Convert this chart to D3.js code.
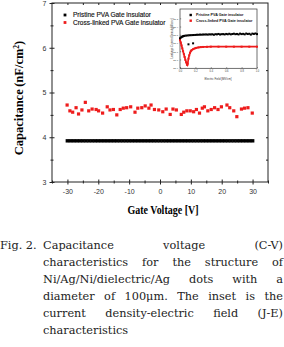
<!DOCTYPE html>
<html>
<head>
<meta charset="utf-8">
<script src="https://cdn.jsdelivr.net/npm/d3@7"></script>
<style>
  html, body { margin: 0; padding: 0; background: #fff; overflow: hidden; }
  svg { display: block; }
</style>
</head>
<body>
<script>
// main chart: C-V
var seriesNames = ['Pristine PVA Gate insulator', 'Cross-linked PVA Gate insulator'];
var xTicks = [-30, -20, -10, 0, 10, 20, 30];
var yTicks = [3, 4, 5, 6, 7];

var pristineV = [-30,-29,-28,-27,-26,-25,-24,-23,-22,-21,-20,-19,-18,-17,-16,-15,-14,-13,-12,-11,-10,-9,-8,-7,-6,-5,-4,-3,-2,-1,0,
    1,2,3,4,5,6,7,8,9,10,11,12,13,14,15,16,17,18,19,20,21,22,23,24,25,26,27,28,29,30];
var pristineC = [3.92,3.92,3.92,3.92,3.92,3.92,3.92,3.92,3.92,3.92,3.92,3.92,3.92,3.92,3.92,3.92,3.92,3.92,3.92,3.92,3.92,
    3.92,3.92,3.92,3.92,3.92,3.92,3.92,3.92,3.92,3.92,3.92,3.92,3.92,3.92,3.92,3.92,3.92,3.92,3.92,3.92,
    3.92,3.92,3.92,3.92,3.92,3.92,3.92,3.92,3.92,3.92,3.92,3.92,3.92,3.92,3.92,3.92,3.92,3.92,3.92,3.92];

var crossV = [-30.1,-29.2,-28.3,-27.2,-26.4,-25.3,-24.2,-23.1,-22,-20.7,-19.9,-18.6,-17.1,-16.2,-15.1,-14,-12.9,-11.9,-10.8,-9.5,
    -8.1,-7.2,-5.9,-4.8,-3.6,-2.9,-1.8,-0.4,0.9,2,3.3,4.2,5.3,6.9,7.7,8.7,9.8,10.9,11.8,12.8,
    13.7,14.4,15.5,16.6,17.7,18.8,19.9,21.7,22.6,23.9,24.9,26.4,27.4,28.5,29.9];
var crossC = [4.72,4.59,4.56,4.66,4.52,4.61,4.78,4.59,4.63,4.62,4.59,4.54,4.68,4.61,4.62,4.50,4.62,4.65,4.66,4.68,
    4.56,4.65,4.66,4.70,4.65,4.72,4.62,4.61,4.57,4.63,4.51,4.63,4.61,4.51,4.56,4.59,4.59,4.57,4.62,4.54,
    4.65,4.68,4.59,4.62,4.66,4.62,4.68,4.72,4.66,4.59,4.46,4.63,4.65,4.66,4.54];

// inset: J-E (log10 of current density)
var insetXTicks = [0, 0.2, 0.4, 0.6, 0.8, 1.0];
var insetYTicks = [-9, -8, -7, -6, -5, -4, -3];
var pristineE = [0,0.01,0.02,0.03,0.04,0.05,0.06,0.08,0.1,0.12,0.14,0.16,0.18,0.2,0.22,0.24,0.26,0.28,0.3,0.32,
    0.34,0.36,0.38,0.4,0.42,0.44,0.46,0.48,0.5,0.52,0.54,0.56,0.58,0.6,0.62,0.64,0.66,0.68,0.7,0.72,
    0.74,0.76,0.78,0.8,0.82,0.84,0.86,0.88,0.9,0.92,0.94,0.96,0.98,1.0];
var pristineJ = [-5.43,-5.35,-5.28,-5.22,-5.18,-5.15,-5.12,-5.1,-5.08,-5.06,-5.05,-5.04,-5.03,-5.02,-5.0,-5.0,-4.98,-4.99,-4.97,-4.97,
    -4.96,-4.98,-4.95,-4.96,-4.94,-5.0,-4.93,-4.95,-4.9,-4.97,-4.93,-4.92,-4.96,-4.9,-4.94,-4.88,-4.95,-4.91,-4.87,-4.93,
    -4.9,-4.96,-4.86,-4.92,-4.89,-4.95,-4.85,-4.91,-4.88,-4.98,-4.86,-4.9,-4.84,-4.92];
var pristineOutE = [0.11, 0.17];
var pristineOutJ = [-6.16, -6.04];
var crossE = [0,0.01,0.02,0.03,0.04,0.05,0.06,0.07,0.08,0.09,0.095,0.1,0.11,0.12,0.13,0.14,0.15,0.17,0.19,0.21,
    0.24,0.27,0.3,0.35,0.4,0.5,0.6,0.7,0.8,0.9,1.0];
var crossJ = [-5.64,-5.95,-6.3,-6.65,-7.0,-7.35,-7.7,-8.05,-8.35,-8.6,-8.67,-8.5,-7.9,-7.5,-7.2,-7.0,-6.88,-6.75,-6.66,-6.6,
    -6.54,-6.5,-6.48,-6.46,-6.45,-6.45,-6.45,-6.45,-6.45,-6.45,-6.45];

var captionLines = [
    'Capacitance voltage (C-V)',
    'characteristics for the structure of',
    'Ni/Ag/Ni/dielectric/Ag dots with a',
    'diameter of 100\u03bcm. The inset is the',
    'current density-electric field (J-E)',
    'characteristics'
];

var W = 284, H = 347;
var svg = d3.select('body').append('svg').attr('width', W).attr('height', H);

var frame = {left: 52, right: 268, top: 3, bottom: 182};
var x = d3.scaleLinear().domain([-35, 35]).range([frame.left, frame.right]);
var y = d3.scaleLinear().domain([3, 7]).range([frame.bottom, frame.top]);

var sans = 'Liberation Sans, Arial, sans-serif';
var serif = 'Liberation Serif, Times New Roman, serif';
var plain = function(d){ return String(d); };

// frame
svg.append('rect')
    .attr('x', frame.left).attr('y', frame.top)
    .attr('width', frame.right - frame.left).attr('height', frame.bottom - frame.top)
    .attr('fill', 'none').attr('stroke', '#222').attr('stroke-width', 1);

function styleAxis(g){
    g.select('.domain').remove();
    g.selectAll('.tick line').attr('stroke', '#222');
    g.selectAll('text').attr('font-family', sans).attr('font-size', 7).attr('fill', '#333');
}

// bottom axis: major + minor ticks crossing the line
var xMajor = svg.append('g').attr('transform', 'translate(0,' + frame.bottom + ')')
    .call(d3.axisBottom(x).tickValues(xTicks).tickSize(2.5).tickPadding(5).tickFormat(plain));
styleAxis(xMajor);
xMajor.selectAll('.tick line').attr('y1', -2.5);
var xMinor = svg.append('g').attr('transform', 'translate(0,' + frame.bottom + ')')
    .call(d3.axisBottom(x).tickValues([-35, -25, -15, -5, 5, 15, 25, 35]).tickSize(1.5).tickFormat(''));
styleAxis(xMinor);
xMinor.selectAll('.tick line').attr('y1', -1.5);

var yMajor = svg.append('g').attr('transform', 'translate(' + frame.left + ',0)')
    .call(d3.axisLeft(y).tickValues(yTicks).tickSize(2.5).tickPadding(3).tickFormat(plain));
styleAxis(yMajor);
yMajor.selectAll('.tick line').attr('x1', 2.5);
var yMinor = svg.append('g').attr('transform', 'translate(' + frame.left + ',0)')
    .call(d3.axisLeft(y).tickValues([3.5, 4.5, 5.5, 6.5]).tickSize(1.5).tickFormat(''));
styleAxis(yMinor);
yMinor.selectAll('.tick line').attr('x1', 1.5);

// mirror ticks inside top/right
var xTop = svg.append('g').attr('transform', 'translate(0,' + frame.top + ')')
    .call(d3.axisTop(x).tickValues(xTicks.concat([-25, -15, -5, 5, 15, 25])).tickSize(-2).tickFormat(''));
styleAxis(xTop);
var yRight = svg.append('g').attr('transform', 'translate(' + frame.right + ',0)')
    .call(d3.axisRight(y).tickValues([3.5, 4, 4.5, 5, 5.5, 6, 6.5]).tickSize(-2).tickFormat(''));
styleAxis(yRight);

// data
var sq = 3.4;
svg.append('g').selectAll('rect').data(d3.zip(pristineV, pristineC)).enter()
    .append('rect')
    .attr('x', function(d){ return x(d[0]) - 1.8; })
    .attr('y', function(d){ return y(d[1]) - sq / 2; })
    .attr('width', 3.6).attr('height', sq)
    .attr('fill', '#000');
svg.append('g').selectAll('rect').data(d3.zip(crossV, crossC)).enter()
    .append('rect')
    .attr('x', function(d){ return x(d[0]) - 1.6; })
    .attr('y', function(d){ return y(d[1]) - 1.6; })
    .attr('width', 3.2).attr('height', 3.2)
    .attr('fill', '#ee1c1c');

// legend
var legend = svg.append('g');
[['#000', 15], ['#ee1c1c', 22.5]].forEach(function(item, i){
    legend.append('rect').attr('x', 63.6).attr('y', item[1] - 1.4)
        .attr('width', 2.8).attr('height', 2.8).attr('fill', item[0]);
    legend.append('text').attr('x', 73).attr('y', item[1] + 2.3)
        .attr('font-family', sans).attr('font-size', 6.5).attr('fill', '#111')
        .attr('stroke', '#111').attr('stroke-width', 0.15)
        .text(seriesNames[i]);
});

// axis titles
svg.append('text')
    .attr('x', 163).attr('y', 214)
    .attr('text-anchor', 'middle')
    .attr('font-family', serif).attr('font-weight', 'bold').attr('font-size', 12)
    .attr('textLength', 71).attr('lengthAdjust', 'spacingAndGlyphs')
    .text('Gate Voltage [V]');

var yTitle = svg.append('text')
    .attr('transform', 'translate(23,98) rotate(-90)')
    .attr('text-anchor', 'middle')
    .attr('font-family', serif).attr('font-weight', 'bold').attr('font-size', 12.5);
yTitle.append('tspan').text('Capacitance\u2009(nF/cm');
yTitle.append('tspan').attr('dy', -4.5).attr('font-size', 7.5).text('2');
yTitle.append('tspan').attr('dy', 4.5).text(')');

// ---- inset ----
var inset = {left: 180, right: 257, top: 9, bottom: 68.3};
var ix = d3.scaleLinear().domain([0, 1]).range([inset.left, inset.right]);
var iy = d3.scaleLinear().domain([-9, -1.87]).range([inset.bottom - 0.6, inset.top]);
var ig = svg.append('g');

ig.append('rect')
    .attr('x', inset.left).attr('y', inset.top)
    .attr('width', inset.right - inset.left).attr('height', inset.bottom - inset.top)
    .attr('fill', '#fff').attr('stroke', '#333').attr('stroke-width', 0.7);

var ixAxis = ig.append('g').attr('transform', 'translate(0,' + inset.bottom + ')')
    .call(d3.axisBottom(ix).tickValues(insetXTicks).tickSize(-1.2).tickPadding(2.2).tickFormat(d3.format('.1f')));
ixAxis.select('.domain').remove();
ixAxis.selectAll('.tick line').attr('stroke', '#333').attr('stroke-width', 0.5);
ixAxis.selectAll('text').attr('font-family', sans).attr('font-size', 2.6).attr('fill', '#444');

var iyAxis = ig.append('g').attr('transform', 'translate(' + inset.left + ',0)')
    .call(d3.axisLeft(iy).tickValues(insetYTicks).tickSize(-1.2).tickPadding(2)
        .tickFormat(function(d){ return '1E' + d; }));
iyAxis.select('.domain').remove();
iyAxis.selectAll('.tick line').attr('stroke', '#333').attr('stroke-width', 0.5);
iyAxis.selectAll('text').attr('font-family', sans).attr('font-size', 2.4).attr('fill', '#444');

ig.append('text')
    .attr('x', 218).attr('y', 80)
    .attr('text-anchor', 'middle')
    .attr('font-family', sans).attr('font-size', 2.8).attr('fill', '#333')
    .text('Electric Field [MV/cm]');
ig.append('text')
    .attr('transform', 'translate(172.5,38.5) rotate(-90)')
    .attr('text-anchor', 'middle')
    .attr('font-family', sans).attr('font-size', 2.8).attr('fill', '#333')
    .text('Leakage Current Density[A/cm\u00b2]');

ig.append('path')
    .datum(d3.zip(crossE, crossJ))
    .attr('fill', 'none').attr('stroke', '#ee1c1c').attr('stroke-width', 1.7)
    .attr('d', d3.line().x(function(d){ return ix(d[0]); }).y(function(d){ return iy(d[1]); }));
ig.append('g').selectAll('rect').data(d3.zip(crossE, crossJ)).enter()
    .append('rect')
    .attr('x', function(d){ return ix(d[0]) - 1; })
    .attr('y', function(d){ return iy(d[1]) - 1; })
    .attr('width', 2).attr('height', 2).attr('fill', '#ee1c1c');

ig.append('g').selectAll('rect').data(d3.zip(pristineE, pristineJ).concat(d3.zip(pristineOutE, pristineOutJ))).enter()
    .append('rect')
    .attr('x', function(d){ return ix(d[0]) - 1; })
    .attr('y', function(d){ return iy(d[1]) - 1; })
    .attr('width', 2).attr('height', 2).attr('fill', '#000');

[['#000', 15], ['#ee1c1c', 20.7]].forEach(function(item, i){
    ig.append('rect').attr('x', 189.5).attr('y', item[1] - 1.2)
        .attr('width', 2.4).attr('height', 2.4).attr('fill', item[0]);
    ig.append('text').attr('x', 196).attr('y', item[1] + 1.4)
        .attr('font-family', sans).attr('font-size', 3.7).attr('font-weight', 'bold').attr('fill', '#111')
        .text(seriesNames[i]);
});

// ---- caption, justified ----
var cap = svg.append('g')
    .attr('font-family', 'DejaVu Serif, serif')
    .attr('font-size', 11.3)
    .attr('fill', '#222');
cap.append('text').attr('x', 0).attr('y', 249).text('Fig. 2.');

var capLeft = 43, capRight = 283;
captionLines.forEach(function(line, i){
    var baseY = 249 + i * 17;
    var words = line.split(' ');
    var nodes = words.map(function(w){
        return cap.append('text').attr('y', baseY).text(w);
    });
    var widths = nodes.map(function(n){ return n.node().getComputedTextLength(); });
    var total = d3.sum(widths);
    var last = i === captionLines.length - 1;
    var gap = (last || words.length < 2) ? 4 : (capRight - capLeft - total) / (words.length - 1);
    var cx = capLeft;
    nodes.forEach(function(n, j){
        n.attr('x', cx);
        cx += widths[j] + gap;
    });
});
</script>
</body>
</html>
